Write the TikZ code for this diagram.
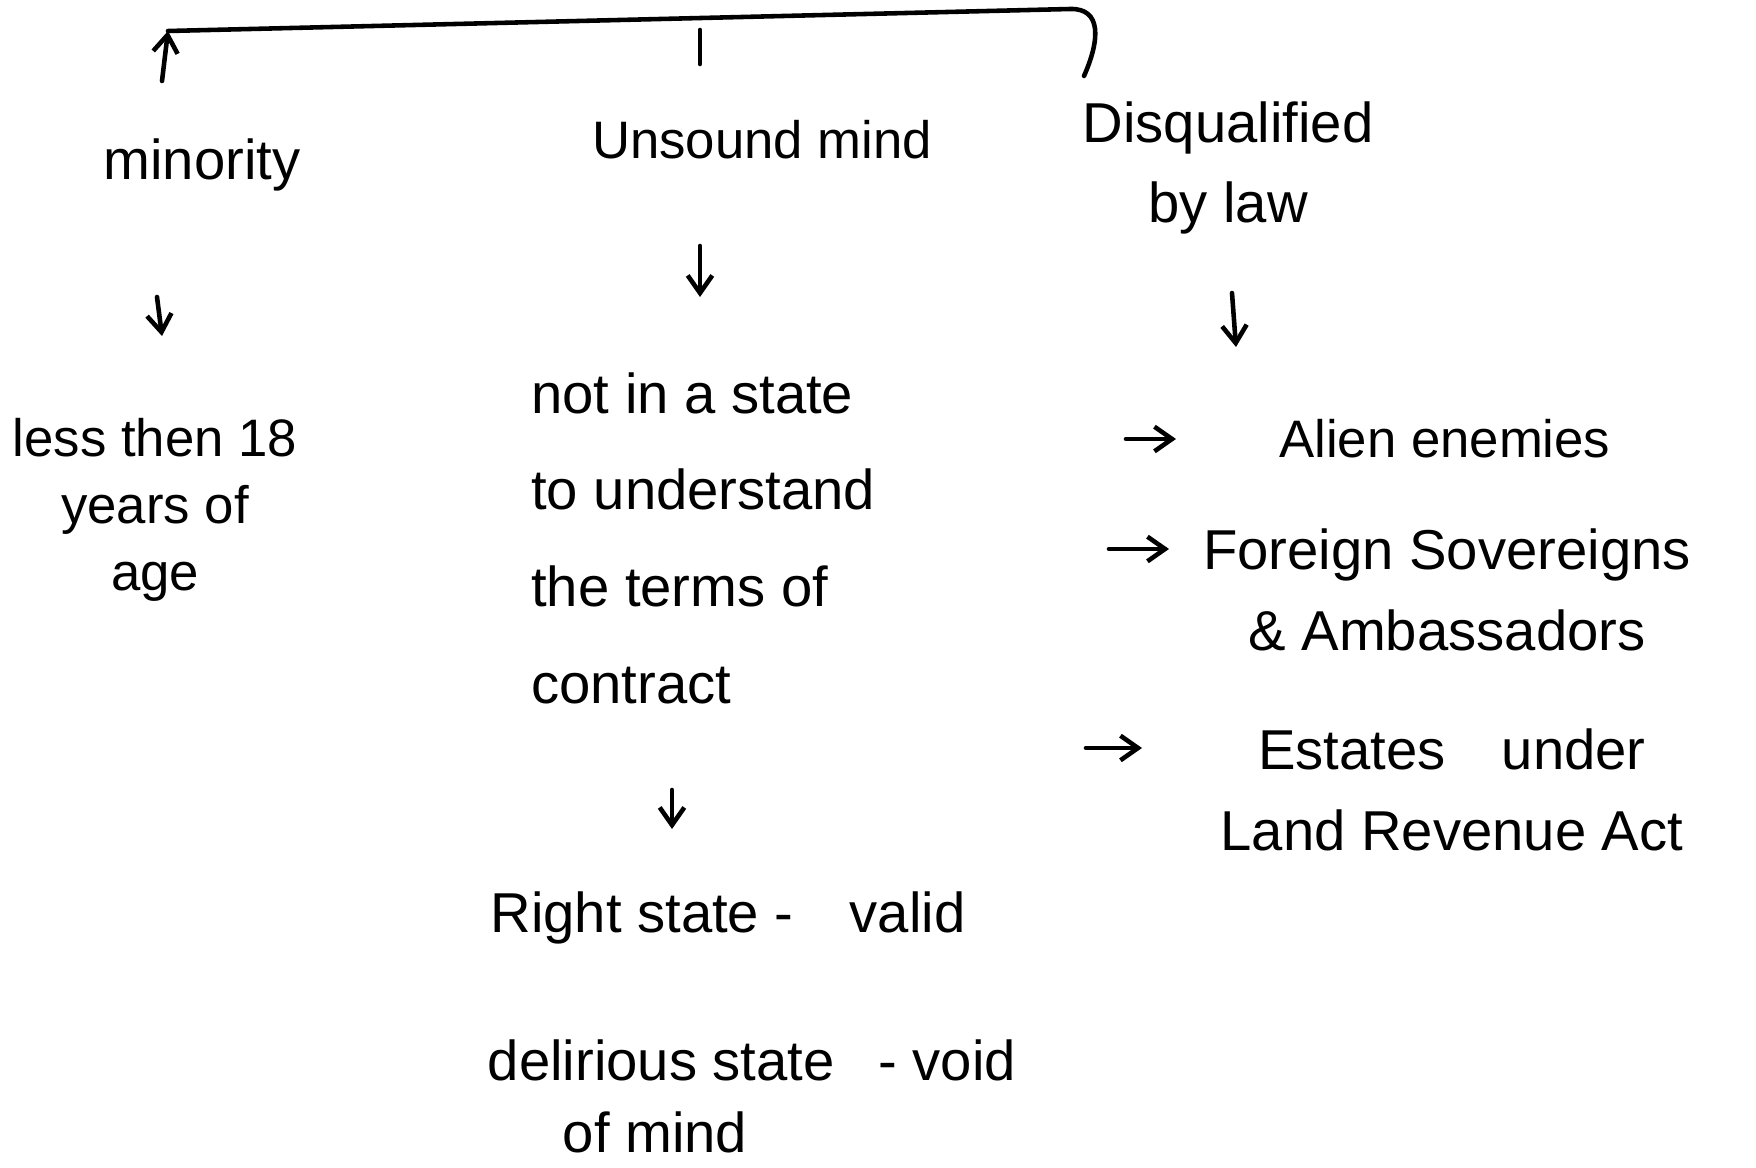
\documentclass[tikz,border=0pt]{standalone}
\usepackage{fontspec}
\setmainfont{Liberation Sans}
\usetikzlibrary{arrows.meta}
\tikzset{t/.style={align=center,inner sep=2pt,font=\fontsize{16}{23}\selectfont},
 tl/.style={t,align=left,anchor=west},
 ar/.style={-{Straight Barb[length=5pt,width=7pt]},line width=1.3pt}}

\begin{document}
\begin{tikzpicture}[x=0.1mm,y=-0.1mm,line width=1.3pt,line cap=round]
\useasboundingbox (0,0) rectangle (1756,1168);
% heads
\node[t](min) at (202,165){minority};\node[t,font=\fontsize{15}{23}\selectfont](uns) at (762,140){Unsound mind};
\node[t](dis) at (1228,168){Disqualified\\by law};
% minority
\node[t,font=\fontsize{15}{19}\selectfont](less) at (155,510){less then 18\\years of\\age};
% unsound mind
\node[tl,font=\fontsize{16}{27.5}\selectfont](state) at (522,538){not in a state\\to understand\\the terms of\\contract};
\node[t](rs) at (728,918){Right state -\quad valid};
\node[t](del) at (752,1060){delirious state \enspace- void};\node[t](ofm) at (655,1132){of mind};
% disqualified
\node[tl,font=\fontsize{15}{23}\selectfont](alien) at (1270,439){Alien enemies};
\node[t](forgn) at (1447,590){Foreign Sovereigns\\\& Ambassadors};
\node[t](est) at (1452,790){Estates\quad under\\Land Revenue Act};
% bracket
\coordinate(b1) at (168,31);\coordinate(b2) at (1070,9);\coordinate(b3) at (1084,76);
\coordinate(m1) at (700,30);\coordinate(m2) at (700,64);\coordinate(u1) at (162,81);
\draw (b1)--(b2) .. controls (1102,8) and (1100,40) .. (b3);
\draw (m1)--(m2);\draw[ar] (u1)--(b1);
% arrows
\coordinate(d1) at (157,297);\coordinate(e1) at (162,336);
\coordinate(d2) at (700,246);\coordinate(e2) at (700,297);
\coordinate(d3) at (1232,293);\coordinate(e3) at (1236,347);
\coordinate(d4) at (672,790);\coordinate(e4) at (672,829);
\coordinate(r1) at (1126,439);\coordinate(r2) at (1109,549);\coordinate(r3) at (1086,748);
\foreach\x/\y in {d1/e1,d2/e2,d3/e3,d4/e4}{\draw[ar](\x)--(\y);}
\draw[ar] (r1)--++(50,0);\draw[ar] (r2)--++(60,0);\draw[ar] (r3)--++(56,0);
\end{tikzpicture}
\end{document}
